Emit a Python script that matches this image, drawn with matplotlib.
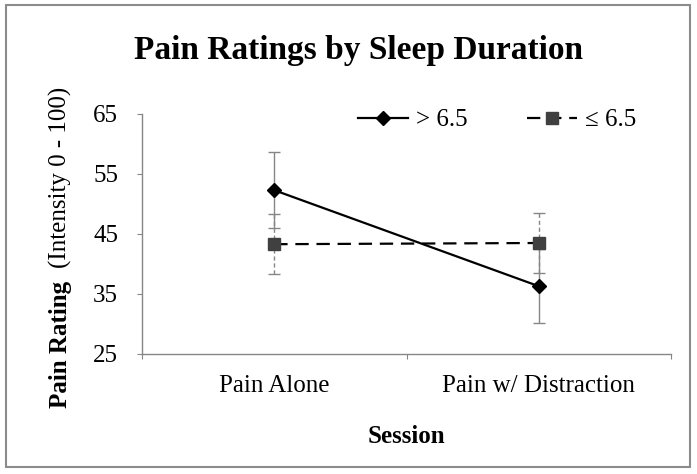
import matplotlib
matplotlib.use("Agg")
import matplotlib.pyplot as plt
from matplotlib.patches import Rectangle

plt.rcParams['font.family'] = ['Liberation Serif', 'DejaVu Serif']

# data
sessions = ["Pain Alone", "Pain w/ Distraction"]
long_sleep = [52.3, 36.3]      # > 6.5 h
long_err = [6.3, 6.2]
short_sleep = [43.3, 43.5]     # <= 6.5 h
short_err = [5.0, 5.0]
series_labels = ["> 6.5", "\u2264 6.5"]

W, H = 697, 474
fs = 18
fig = plt.figure(figsize=(W / 100, H / 100), dpi=100)
ax = fig.add_axes([142 / W, 1 - 354 / H, (671 - 142) / W, (354 - 114) / H])

xpos = [i + 0.5 for i in range(len(sessions))]
grey = "#868686"

# error bars first so markers sit on top
eb1 = ax.errorbar(xpos, long_sleep, yerr=long_err, fmt="none", ecolor=grey,
                  elinewidth=1, capsize=4, capthick=1, zorder=2)
eb2 = ax.errorbar(xpos, short_sleep, yerr=short_err, fmt="none", ecolor=grey,
                  elinewidth=1, capsize=4, capthick=1, zorder=2)
eb2[2][0].set_linestyle((0, (3, 2)))

ax.plot(xpos, long_sleep, color="black", lw=1.6, marker="D", markersize=7,
        markerfacecolor="black", markeredgecolor="black", label=series_labels[0], zorder=4)
ax.plot(xpos, short_sleep, color="black", lw=1.6, ls=(0, (6, 3.5)), marker="s", markersize=8,
        markerfacecolor="#404040", markeredgecolor="#404040", label=series_labels[1], zorder=4)

ax.set_xlim(0, len(sessions))
ax.set_ylim(25, 65)
ax.set_yticks(range(25, 66, 10))
ax.set_xticks(range(0, len(sessions) + 1))
ax.set_xticklabels([])
ax.set_xticks(xpos, minor=True)
ax.set_xticklabels(sessions, minor=True)
ax.tick_params(axis="x", which="minor", length=0, pad=15, labelsize=fs)
ax.tick_params(axis="x", which="major", length=3.6, color=grey, direction="out")
ax.tick_params(axis="y", length=3.6, color=grey, direction="out", pad=13.5, labelsize=fs)

for s in ["top", "right"]:
    ax.spines[s].set_visible(False)
for s in ["left", "bottom"]:
    ax.spines[s].set_color(grey)
    ax.spines[s].set_linewidth(1)

ax.set_xlabel("Session", fontsize=fs, fontweight="bold", labelpad=20)

fig.text(60 / W, 1 - 408 / H, "Pain Rating", rotation=90, ha="center", va="bottom",
         fontsize=fs, fontweight="bold")
fig.text(60 / W, 1 - 268 / H, "(Intensity 0 - 100)", rotation=90, ha="center", va="bottom",
         fontsize=fs)

fig.text(358 / W, 1 - 50 / H, "Pain Ratings by Sleep Duration", ha="center", va="center",
         fontsize=24, fontweight="bold")

ax.legend(loc="center right", bbox_to_anchor=(0.934, 0.975), ncol=2, frameon=False,
          fontsize=fs, handlelength=2.0, columnspacing=2.4, handletextpad=0.3,
          borderpad=0, borderaxespad=0)

fig.patches.append(Rectangle((6 / W, 1 - 467 / H), (690 - 6) / W, (467 - 5) / H,
                             transform=fig.transFigure, fill=False, edgecolor="#8c8c8c", lw=1.5))

fig.savefig("out.png", dpi=100, facecolor="white")
